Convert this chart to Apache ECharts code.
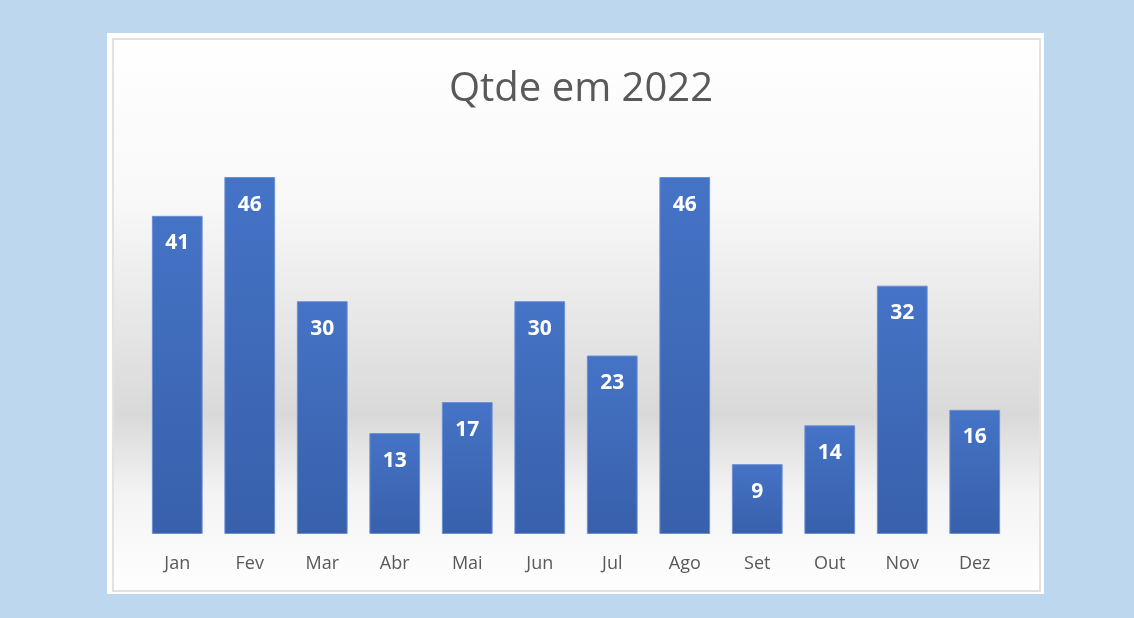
<!DOCTYPE html>
<html>
<head>
<meta charset="utf-8">
<script src="https://cdn.jsdelivr.net/npm/echarts@6/dist/echarts.min.js"></script>
<style>
  html, body { margin: 0; padding: 0; background: #bdd7ee; }
  #chart { width: 1134px; height: 618px; }
</style>
</head>
<body>
<div id="chart"></div>
<script>
var months = ['Jan', 'Fev', 'Mar', 'Abr', 'Mai', 'Jun', 'Jul', 'Ago', 'Set', 'Out', 'Nov', 'Dez'];
var qtde = [41, 46, 30, 13, 17, 30, 23, 46, 9, 14, 32, 16];
var titleText = 'Qtde em 2022';

var chart = echarts.init(document.getElementById('chart'));

var option = {
  backgroundColor: '#bdd7ee',
  animation: false,
  title: {
    text: titleText,
    left: 576,
    textAlign: 'center',
    top: 65,
    textStyle: {
      fontFamily: 'Open Sans',
      fontSize: 40,
      fontWeight: 'normal',
      color: '#595959'
    }
  },
  graphic: [
    {
      type: 'rect',
      z: -10,
      shape: { x: 107, y: 33, width: 937, height: 561 },
      style: { fill: '#ffffff' }
    },
    {
      type: 'rect',
      z: -9,
      shape: { x: 113, y: 39, width: 927, height: 552 },
      style: {
        stroke: '#e2e2e2',
        lineWidth: 2,
        fill: new echarts.graphic.LinearGradient(0, 0, 0, 1, [
          { offset: 0, color: '#ffffff' },
          { offset: 0.3, color: '#f8f8f8' },
          { offset: 0.68, color: '#d9d9d9' },
          { offset: 0.82, color: '#f3f3f3' },
          { offset: 1, color: '#ffffff' }
        ])
      }
    }
  ],
  grid: {
    left: 141,
    right: 123,
    top: 146,
    bottom: 84
  },
  xAxis: {
    type: 'category',
    data: months,
    axisLine: { show: false },
    axisTick: { show: false },
    axisLabel: {
      margin: 21,
      fontFamily: 'Open Sans',
      fontSize: 18,
      color: '#595959'
    }
  },
  yAxis: {
    type: 'value',
    min: 0,
    max: 50,
    show: false,
    splitLine: { show: false }
  },
  series: [
    {
      type: 'bar',
      data: qtde,
      barCategoryGap: '30%',
      itemStyle: {
        color: new echarts.graphic.LinearGradient(0, 0, 0, 1, [
          { offset: 0, color: '#4573c6' },
          { offset: 1, color: '#3860ab' }
        ]),
        borderColor: '#6a8fd2',
        borderWidth: 1
      },
      label: {
        show: true,
        position: 'insideTop',
        distance: 17,
        fontFamily: 'Open Sans',
        fontSize: 21,
        fontWeight: 'bold',
        color: '#ffffff'
      }
    }
  ]
};

chart.setOption(option);
</script>
</body>
</html>
